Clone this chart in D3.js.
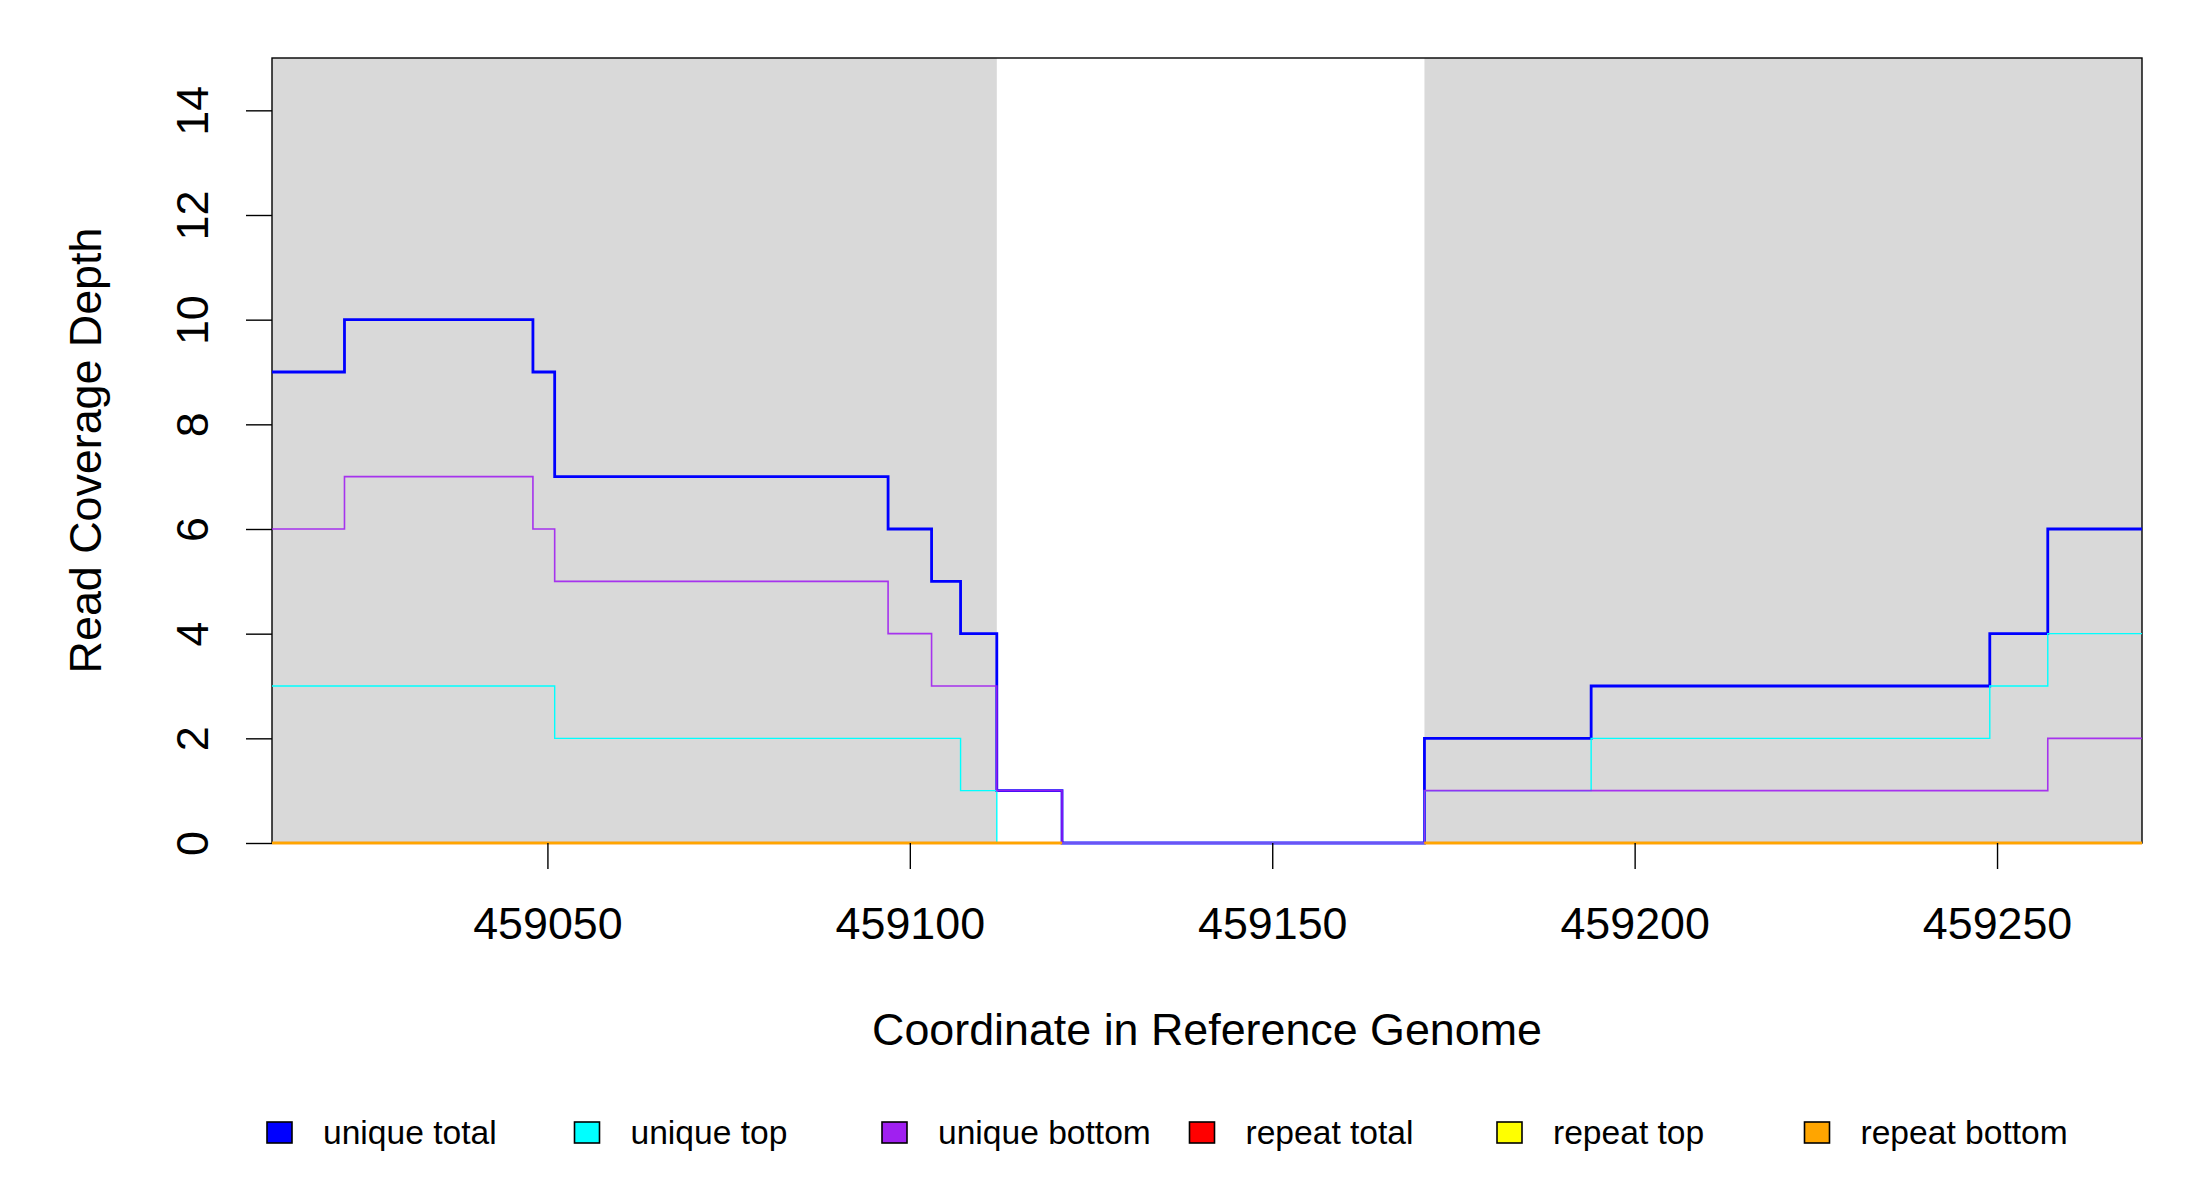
<!DOCTYPE html>
<html>
<head>
<meta charset="utf-8">
<script src="https://cdn.jsdelivr.net/npm/d3@7"></script>
<style>
  body { margin: 0; background: #fff; }
  svg { display: block; font-family: "Liberation Sans", Arial, sans-serif; }
</style>
</head>
<body>
<div id="chart"></div>
<script>
// Coverage steps: value holds from this position to the next one
const uniqueTotalPos = [459012, 459022, 459048, 459051, 459097, 459103, 459107, 459112, 459121, 459171, 459194, 459249, 459257, 459270];
const uniqueTotalVal = [9, 10, 9, 7, 6, 5, 4, 1, 0, 2, 3, 4, 6, 6];

const uniqueTopPos = [459012, 459051, 459107, 459112, 459171, 459194, 459249, 459257, 459270];
const uniqueTopVal = [3, 2, 1, 0, 1, 2, 3, 4, 4];

const uniqueBottomPos = [459012, 459022, 459048, 459051, 459097, 459103, 459112, 459121, 459171, 459257, 459270];
const uniqueBottomVal = [6, 7, 6, 5, 4, 3, 1, 0, 1, 2, 2];

// repeat coverage only exists on these stretches (all zero)
const repeatSpans = [[459012, 459121], [459171, 459270]];
const repeatTotalVal = [0, 0];
const repeatTopVal = [0, 0];
const repeatBottomVal = [0, 0];

// shaded (grey) regions
const shadedSpans = [[459012, 459112], [459171, 459270]];

const xDomain = [459012, 459270];
const yDomain = [0, 15];
const xTicks = [459050, 459100, 459150, 459200, 459250];
const yTicks = [0, 2, 4, 6, 8, 10, 12, 14];

const legendLabels = ['unique total', 'unique top', 'unique bottom', 'repeat total', 'repeat top', 'repeat bottom'];
const legendColors = ['#0000ff', '#00ffff', '#a020f0', '#ff0000', '#ffff00', '#ffa500'];

const width = 2200, height = 1200;
const plot = { left: 272, right: 2142, top: 58, bottom: 843 };
const axisFont = 44.8;

const svg = d3.select('#chart').append('svg')
  .attr('width', width)
  .attr('height', height)
  .attr('viewBox', `0 0 ${width} ${height}`);

const x = d3.scaleLinear().domain(xDomain).range([plot.left, plot.right]);
const y = d3.scaleLinear().domain(yDomain).range([plot.bottom, plot.top]);

// Grey regions
svg.append('g').selectAll('rect')
  .data(shadedSpans)
  .join('rect')
  .attr('x', d => x(d[0]))
  .attr('width', d => x(d[1]) - x(d[0]))
  .attr('y', y(yDomain[1]))
  .attr('height', y(yDomain[0]) - y(yDomain[1]))
  .attr('fill', '#d9d9d9');

// Box
svg.append('rect')
  .attr('x', plot.left)
  .attr('y', plot.top)
  .attr('width', plot.right - plot.left)
  .attr('height', plot.bottom - plot.top)
  .attr('fill', 'none')
  .attr('stroke', '#000')
  .attr('stroke-width', 1.4);

const stepLine = d3.line()
  .x(d => x(d[0]))
  .y(d => y(d[1]))
  .curve(d3.curveStepAfter);

const zip = (pos, val) => pos.map((p, i) => [p, val[i]]);

const series = [
  { pts: zip(uniqueTotalPos, uniqueTotalVal), color: legendColors[0], w: 2.8, op: 1 },
  { pts: zip(uniqueTopPos, uniqueTopVal), color: legendColors[1], w: 1.4, op: 1 },
  { pts: zip(uniqueBottomPos, uniqueBottomVal), color: legendColors[2], w: 1.6, op: 0.9 }
];

const lineGroup = svg.append('g').attr('fill', 'none');
series.forEach(s => {
  lineGroup.append('path')
    .attr('d', stepLine(s.pts))
    .attr('stroke', s.color)
    .attr('stroke-width', s.w)
    .attr('stroke-opacity', s.op);
});

// Repeat lines, one piece per span (repeat bottom ends up on top)
[repeatTotalVal, repeatTopVal, repeatBottomVal].forEach((vals, k) => {
  repeatSpans.forEach((span, i) => {
    lineGroup.append('path')
      .attr('d', stepLine([[span[0], vals[i]], [span[1], vals[i]]]))
      .attr('stroke', legendColors[3 + k])
      .attr('stroke-width', 2.4)
      .attr('stroke-opacity', k === 2 ? 1 : 0.6);
  });
});

// Axes
const xAxis = svg.append('g')
  .attr('transform', `translate(0,${plot.bottom})`)
  .call(d3.axisBottom(x).tickValues(xTicks).tickFormat(d3.format('d')).tickSize(26));
xAxis.select('.domain').remove();
xAxis.selectAll('.tick line').attr('stroke', '#000').attr('stroke-width', 1.4);
xAxis.selectAll('.tick text')
  .attr('y', 96)
  .attr('dy', 0)
  .attr('fill', '#000')
  .attr('font-size', axisFont)
  .attr('font-family', '"Liberation Sans", Arial, sans-serif');

const yAxis = svg.append('g')
  .attr('transform', `translate(${plot.left},0)`)
  .call(d3.axisLeft(y).tickValues(yTicks).tickSize(26));
yAxis.select('.domain').remove();
yAxis.selectAll('.tick line').attr('stroke', '#000').attr('stroke-width', 1.4);
yAxis.selectAll('.tick text')
  .attr('x', 0)
  .attr('y', -64)
  .attr('dy', 0)
  .attr('transform', 'rotate(-90)')
  .attr('text-anchor', 'middle')
  .attr('fill', '#000')
  .attr('font-size', axisFont)
  .attr('font-family', '"Liberation Sans", Arial, sans-serif');

// Axis titles
svg.append('text')
  .attr('x', (plot.left + plot.right) / 2)
  .attr('y', 1045)
  .attr('text-anchor', 'middle')
  .attr('font-size', axisFont)
  .text('Coordinate in Reference Genome');

svg.append('text')
  .attr('transform', `translate(101,${(plot.top + plot.bottom) / 2}) rotate(-90)`)
  .attr('text-anchor', 'middle')
  .attr('font-size', axisFont)
  .text('Read Coverage Depth');

// Legend
const legend = svg.append('g').attr('transform', 'translate(267,1122)');
const item = legend.selectAll('g')
  .data(legendLabels)
  .join('g')
  .attr('transform', (d, i) => `translate(${i * 307.5},0)`);
item.append('rect')
  .attr('width', 25)
  .attr('height', 21)
  .attr('fill', (d, i) => legendColors[i])
  .attr('stroke', '#000')
  .attr('stroke-width', 1.6);
item.append('text')
  .attr('x', 56)
  .attr('y', 22)
  .attr('font-size', 33.6)
  .text(d => d);
</script>
</body>
</html>
